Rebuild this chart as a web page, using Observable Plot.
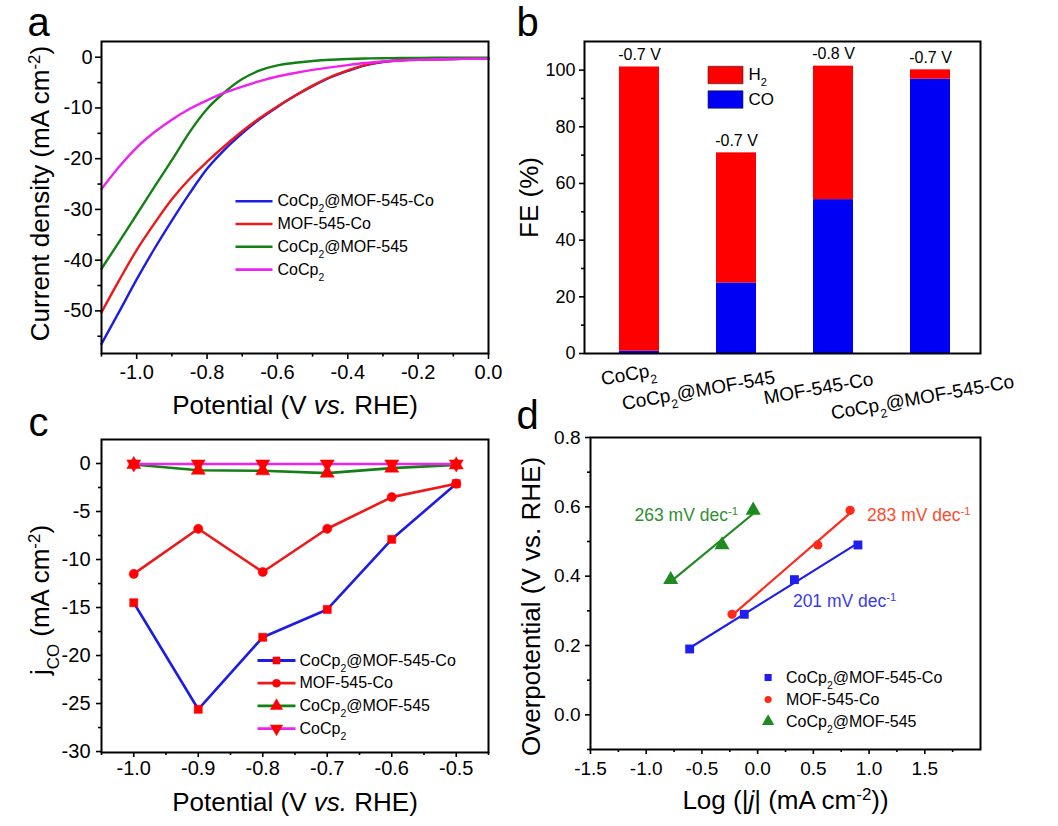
<!DOCTYPE html>
<html><head><meta charset="utf-8">
<script src="https://cdn.jsdelivr.net/npm/d3@7"></script>
<script src="https://cdn.jsdelivr.net/npm/@observablehq/plot@0.6"></script>
<style>
body{margin:0;background:#fff;}
#fig{position:relative;width:1058px;height:826px;background:#fff;overflow:hidden;}
#fig svg{position:absolute;overflow:visible;}
</style></head><body><div id="fig"></div>
<script>
// ---------- Panel a: LSV curves ----------
const seriesNames = ["CoCp_{2}@MOF-545-Co", "MOF-545-Co", "CoCp_{2}@MOF-545", "CoCp_{2}"];
const lsvPotential = [-1.1, -1.05, -1.0, -0.95, -0.9, -0.85, -0.8, -0.75, -0.7, -0.65, -0.6, -0.55, -0.5, -0.45, -0.4, -0.35, -0.3, -0.25, -0.2, -0.15, -0.1, -0.05, 0];
const lsvBlue    = [-56.5, -50.2, -43.8, -37.8, -32.2, -26.9, -22.0, -18.2, -15.0, -12.2, -9.8, -7.6, -5.7, -4.0, -2.7, -1.6, -0.95, -0.6, -0.45, -0.4, -0.35, -0.32, -0.3];
const lsvRed     = [-50.3, -44.0, -38.0, -32.8, -28.0, -24.0, -20.6, -17.5, -14.6, -12.0, -9.7, -7.6, -5.6, -3.9, -2.6, -1.5, -0.9, -0.6, -0.45, -0.4, -0.35, -0.32, -0.3];
const lsvGreen   = [-41.7, -36.4, -31.0, -25.6, -20.3, -14.8, -10.2, -6.9, -4.3, -2.6, -1.6, -1.1, -0.75, -0.5, -0.35, -0.25, -0.2, -0.15, -0.12, -0.1, -0.1, -0.1, -0.1];
const lsvMagenta = [-26.0, -21.6, -17.8, -14.8, -12.3, -10.2, -8.5, -7.0, -5.8, -4.7, -3.8, -3.1, -2.5, -2.0, -1.55, -1.15, -0.85, -0.65, -0.5, -0.4, -0.35, -0.3, -0.3];

// ---------- Panel b: Faradaic efficiency ----------
const catsB = ["CoCp_{2}", "CoCp_{2}@MOF-545", "MOF-545-Co", "CoCp_{2}@MOF-545-Co"];
const feCO = [0.8, 24.9, 54.3, 96.8];
const feH2 = [100.3, 45.9, 47.1, 3.3];
const potLabelsB = ["-0.7 V", "-0.7 V", "-0.8 V", "-0.7 V"];
const gasNames = ["H_{2}", "CO"];

// ---------- Panel c: j_CO ----------
const potC = [-1.0, -0.9, -0.8, -0.7, -0.6, -0.5];
const jcoBlue    = [-14.5, -25.6, -18.1, -15.2, -7.9, -2.1];
const jcoRed     = [-11.5, -6.8, -11.3, -6.8, -3.5, -2.1];
const jcoGreen   = [-0.1, -0.7, -0.76, -1.0, -0.48, -0.14];
const jcoMagenta = [-0.05, -0.05, -0.05, -0.05, -0.05, -0.05];
const errHighC = [null, 0.05, 0.1, 0.05, 0.2, 0.15];
const errLowC  = [null, -0.85, -1.0, -1.15, -0.7, -0.5];

// ---------- Panel d: Tafel ----------
const tafelNames = ["CoCp_{2}@MOF-545-Co", "MOF-545-Co", "CoCp_{2}@MOF-545"];
const tafelBlueX  = [-0.61, -0.12, 0.33, 0.9];
const tafelBlueY  = [0.19, 0.29, 0.39, 0.49];
const tafelRedX   = [-0.23, 0.54, 0.83];
const tafelRedY   = [0.29, 0.49, 0.59];
const tafelGreenX = [-0.78, -0.32, -0.04];
const tafelGreenY = [0.39, 0.49, 0.59];
const slopeLabels = ["263 mV dec^{-1}", "283 mV dec^{-1}", "201 mV dec^{-1}"];

// ---------- styling ----------
const FONT = '"Liberation Sans", Arial, Helvetica, sans-serif';
const BLUE = "#1c1ce6", RED = "#ee1818", GREEN = "#138013", MAGENTA = "#ee22ee";
const baseStyle = {background: "transparent", overflow: "visible", fontFamily: FONT, color: "#000"};

const HLINE = {draw(ctx, size) { const L = Math.sqrt(size / Math.PI); ctx.moveTo(-L, 0); ctx.lineTo(L, 0); }};
const RECT = {draw(ctx, size) { const r = Math.sqrt(size / Math.PI); ctx.rect(-r, -r / 2, 2 * r, r); }};
const TRIDOWN = {draw(ctx, size) {
  const y = -Math.sqrt(size / (Math.sqrt(3) * 3));
  ctx.moveTo(0, -y * 2); ctx.lineTo(-Math.sqrt(3) * y, y); ctx.lineTo(Math.sqrt(3) * y, y); ctx.closePath();
}};

function axes({xMaj, xMin, yMaj, yMin, fx, fy, fs, xSize = 6, xPad, ySize = 6, yPad}) {
  const m = [];
  if (xMaj) {
    m.push(Plot.axisX(xMaj, {anchor: "bottom", label: null, tickSize: xSize, tickPadding: xPad, tickFormat: fx, fontSize: fs, strokeWidth: 1.6}));
    m.push(Plot.axisX(xMin, {anchor: "bottom", label: null, tickSize: xSize * 0.6, tickFormat: () => "", fill: "none", strokeWidth: 1.6}));
  }
  m.push(Plot.axisY(yMaj, {anchor: "left", label: null, tickSize: ySize, tickPadding: yPad, tickFormat: fy, fontSize: fs, strokeWidth: 1.6}));
  m.push(Plot.axisY(yMin, {anchor: "left", label: null, tickSize: ySize * 0.6, tickFormat: () => "", fill: "none", strokeWidth: 1.6}));
  return m;
}
const letter = (t, dx, dy) => Plot.text([t], {frameAnchor: "top-left", dx, dy, textAnchor: "start", lineAnchor: "bottom", fontSize: 40});
const xTitle = (t, dy) => Plot.text([t], {frameAnchor: "bottom", dy, textAnchor: "middle", lineAnchor: "bottom", fontSize: 26});
const yTitle = (t, dx, dy) => Plot.text([t], {frameAnchor: "left", dx, dy, rotate: -90, textAnchor: "middle", lineAnchor: "bottom", fontSize: 26});
const f1 = d => d.toFixed(1);
const f0 = d => String(d);

// ---------- Panel a ----------
const lsvAll = [lsvBlue, lsvRed, lsvGreen, lsvMagenta];
const colorsA = [BLUE, RED, GREEN, MAGENTA];
const plotA = Plot.plot({
  width: 520, height: 420, marginLeft: 101, marginRight: 32, marginTop: 41, marginBottom: 67,
  style: baseStyle,
  x: {domain: [-1.1, 0]},
  y: {domain: [-58.4, 3.1]},
  marks: [
    ...lsvAll.map((vals, i) => Plot.line(lsvPotential.map((v, k) => ({v, j: vals[k]})), {x: "v", y: "j", stroke: colorsA[i], strokeWidth: 2.4, curve: "monotone-x"})),
    Plot.frame({stroke: "#000", strokeWidth: 2}),
    ...axes({xMaj: [-1.0, -0.8, -0.6, -0.4, -0.2, 0], xMin: [-1.1, -0.9, -0.7, -0.5, -0.3, -0.1],
             yMaj: [0, -10, -20, -30, -40, -50], yMin: [-5, -15, -25, -35, -45, -55],
             fx: f1, fy: f0, fs: 20, xPad: 5, yPad: 3}),
    ...seriesNames.map((n, i) => Plot.dot([n], {frameAnchor: "top-left", dx: 152.5, dy: 159.7 + 22.8 * i, symbol: HLINE, r: 18.5, stroke: colorsA[i], strokeWidth: 2.6, fill: "none"})),
    ...seriesNames.map((n, i) => Plot.text([n], {frameAnchor: "top-left", dx: 176, dy: 159.7 + 22.8 * i, textAnchor: "start", lineAnchor: "middle", fontSize: 16})),
    xTitle("Potential (V *{vs.} RHE)", 60),
    yTitle("Current density (mA cm^{-2})", -53, -4),
    letter("a", -74, -6)
  ]
});

// ---------- Panel b ----------
const rowsB = catsB.flatMap((c, i) => [{cat: c, gas: "CO", fe: feCO[i]}, {cat: c, gas: "H2", fe: feH2[i]}]);
const labelShiftB = [[-11, 21], [-38, 37], [-15, 35], [-8, 44]];
const plotB = Plot.plot({
  width: 538, height: 420, marginLeft: 64, marginRight: 78, marginTop: 41, marginBottom: 67,
  style: baseStyle,
  x: {type: "band", domain: catsB, paddingInner: 0.59, paddingOuter: 0.335, align: 0.54, axis: null},
  y: {domain: [0, 110.1]},
  color: {domain: ["CO", "H2"], range: ["#0000f5", "#ff0000"]},
  marks: [
    Plot.barY(rowsB, {x: "cat", y: "fe", fill: "gas", order: ["CO", "H2"]}),
    Plot.text(catsB, {x: d => d, y: (d, i) => feCO[i] + feH2[i], text: (d, i) => potLabelsB[i], dy: -7, lineAnchor: "bottom", fontSize: 16}),
    Plot.frame({stroke: "#000", strokeWidth: 2}),
    ...axes({yMaj: [0, 20, 40, 60, 80, 100], yMin: [10, 30, 50, 70, 90], fy: f0, fs: 18, ySize: 5, yPad: 4}),
    ...catsB.map((c, i) => Plot.text([c], {x: d => d, frameAnchor: "bottom", dx: labelShiftB[i][0], dy: labelShiftB[i][1], rotate: -10, textAnchor: "middle", lineAnchor: "middle", fontSize: 19})),
    ...gasNames.map((g, i) => Plot.dot([g], {frameAnchor: "top-left", dx: 141, dy: 33.5 + 24.5 * i, symbol: RECT, r: 17.5, fill: i === 0 ? "#ff0000" : "#0000f5", stroke: "#222", strokeWidth: 0.6})),
    ...gasNames.map((g, i) => Plot.text([g], {frameAnchor: "top-left", dx: 164, dy: 33.5 + 24.5 * i, textAnchor: "start", lineAnchor: "middle", fontSize: 17})),
    yTitle("FE (%)", -47, 0),
    letter("b", -68, -6)
  ]
});

// ---------- Panel c ----------
const jcoAll = [jcoBlue, jcoRed, jcoGreen, jcoMagenta];
const symC = ["square", "circle", "triangle", TRIDOWN];
const rC = [4.6, 4.6, 5.2, 5.2];
const errRows = potC.map((v, k) => ({v, lo: errLowC[k], hi: errHighC[k]})).filter(d => d.lo !== null);
const plotC = Plot.plot({
  width: 520, height: 406, marginLeft: 101, marginRight: 32, marginTop: 19, marginBottom: 74,
  style: baseStyle,
  x: {domain: [-1.05, -0.45]},
  y: {domain: [-30.1, 2.5]},
  marks: [
    ...jcoAll.map((vals, i) => Plot.line(potC.map((v, k) => ({v, j: vals[k]})), {x: "v", y: "j", stroke: colorsA[i], strokeWidth: 2.6})),
    Plot.ruleX(errRows, {x: "v", y1: "lo", y2: "hi", stroke: "#ff0000", strokeWidth: 1.6}),
    Plot.dot(errRows, {x: "v", y: "lo", symbol: HLINE, r: 4, stroke: "#ff0000", strokeWidth: 1.6, fill: "none"}),
    Plot.dot(errRows, {x: "v", y: "hi", symbol: HLINE, r: 4, stroke: "#ff0000", strokeWidth: 1.6, fill: "none"}),
    ...jcoAll.map((vals, i) => Plot.dot(potC.map((v, k) => ({v, j: vals[k]})), {x: "v", y: "j", symbol: symC[i], r: rC[i], fill: "#ff0000", stroke: "#ff0000", strokeWidth: 0.5})),
    Plot.frame({stroke: "#000", strokeWidth: 2}),
    ...axes({xMaj: [-1.0, -0.9, -0.8, -0.7, -0.6, -0.5], xMin: [-1.05, -0.95, -0.85, -0.75, -0.65, -0.55, -0.45],
             yMaj: [0, -5, -10, -15, -20, -25, -30], yMin: [-2.5, -7.5, -12.5, -17.5, -22.5, -27.5],
             fx: f1, fy: f0, fs: 20, xSize: 5, xPad: 3, ySize: 5, yPad: 6}),
    ...seriesNames.map((n, i) => Plot.dot([n], {frameAnchor: "top-left", dx: 175, dy: 221 + 22.7 * i, symbol: HLINE, r: 19, stroke: colorsA[i], strokeWidth: 2.8, fill: "none"})),
    ...seriesNames.map((n, i) => Plot.dot([n], {frameAnchor: "top-left", dx: 175, dy: 221 + 22.7 * i, symbol: symC[i], r: rC[i] - 0.6, fill: "#ff0000", stroke: "#ff0000", strokeWidth: 0.5})),
    ...seriesNames.map((n, i) => Plot.text([n], {frameAnchor: "top-left", dx: 198, dy: 221 + 22.7 * i, textAnchor: "start", lineAnchor: "middle", fontSize: 16})),
    xTitle("Potential (V *{vs.} RHE)", 58),
    yTitle("j_{CO} (mA cm^{-2})", -53, 4),
    letter("c", -73, -4)
  ]
});

// ---------- Panel d ----------
const tafelX = [tafelBlueX, tafelRedX, tafelGreenX];
const tafelY = [tafelBlueY, tafelRedY, tafelGreenY];
const colorsD = ["#1e1ef0", "#ff2a1a", "#1f8a1f"];
const textColorsD = ["#2f8f2f", "#ff4a2a", "#3a3aee"];
const symD = ["square", "circle", "triangle"];
const rD = [5, 4.6, 5.6];
const tafelRows = tafelX.map((xs, i) => xs.map((x, k) => ({x, y: tafelY[i][k]})));
const slopePos = [[44, 78.3], [276.6, 77.6], [202.4, 164.3]];
const plotD = Plot.plot({
  width: 538, height: 406, marginLeft: 70, marginRight: 78, marginTop: 17, marginBottom: 77,
  style: baseStyle,
  x: {domain: [-1.5, 2.0]},
  y: {domain: [-0.1, 0.8]},
  marks: [
    ...tafelRows.map((rows, i) => Plot.linearRegressionY(rows, {x: "x", y: "y", stroke: colorsD[i], strokeWidth: 2.2, ci: 0})),
    ...tafelRows.map((rows, i) => Plot.dot(rows, {x: "x", y: "y", symbol: symD[i], r: rD[i], fill: colorsD[i], stroke: "none"})),
    Plot.frame({stroke: "#000", strokeWidth: 2}),
    ...axes({xMaj: [-1.5, -1.0, -0.5, 0, 0.5, 1.0, 1.5], xMin: [-1.25, -0.75, -0.25, 0.25, 0.75, 1.25, 1.75],
             yMaj: [0, 0.2, 0.4, 0.6, 0.8], yMin: [-0.1, 0.1, 0.3, 0.5, 0.7],
             fx: f1, fy: f1, fs: 19, xSize: 5, xPad: 7, ySize: 5, yPad: 5}),
    ...slopeLabels.map((s, i) => Plot.text([s], {frameAnchor: "top-left", dx: slopePos[i][0], dy: slopePos[i][1], textAnchor: "start", lineAnchor: "middle", fontSize: 17.5, fill: textColorsD[i]})),
    ...tafelNames.map((n, i) => Plot.dot([n], {frameAnchor: "top-left", dx: 177.6, dy: 240 + 22 * i, symbol: symD[i], r: rD[i] - 1, fill: colorsD[i], stroke: "none"})),
    ...tafelNames.map((n, i) => Plot.text([n], {frameAnchor: "top-left", dx: 195.5, dy: 240 + 22 * i, textAnchor: "start", lineAnchor: "middle", fontSize: 16})),
    xTitle("Log (|*{j}| (mA cm^{-2}))", 59),
    yTitle("Overpotential (V vs. RHE)", -51, 13),
    letter("d", -74, -9)
  ]
});

// ---------- layout ----------
const fig = document.getElementById("fig");
[[plotA, 0, 0], [plotB, 520, 0], [plotC, 0, 420], [plotD, 520, 420]].forEach(([p, l, t]) => {
  p.style.left = l + "px"; p.style.top = t + "px";
  fig.appendChild(p);
});

// rich text: ^{sup}, _{sub}, *{italic}
function rich(s) {
  return s.replace(/&/g, "&amp;").replace(/</g, "&lt;")
    .replace(/\^\{([^}]*)\}/g, '<tspan baseline-shift="super" font-size="65%">$1</tspan>')
    .replace(/_\{([^}]*)\}/g, '<tspan baseline-shift="sub" font-size="65%">$1</tspan>')
    .replace(/\*\{([^}]*)\}/g, '<tspan font-style="italic">$1</tspan>');
}
fig.querySelectorAll("text").forEach(t => {
  const s = t.textContent;
  if (/[\^_*]\{/.test(s)) t.innerHTML = rich(s);
});
</script></body></html>
